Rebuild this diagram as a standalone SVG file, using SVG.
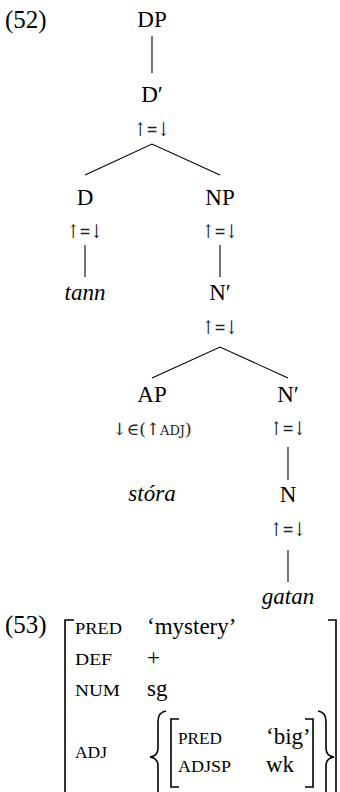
<svg xmlns="http://www.w3.org/2000/svg" width="340" height="792" viewBox="0 0 340 792" font-family="'Liberation Serif', 'DejaVu Serif', serif">
<style>
text{font-family:'Liberation Serif','DejaVu Serif',serif;fill:#000}
.lab{font-size:23px;text-anchor:middle}
.ann{font-size:19px;text-anchor:middle;font-family:'DejaVu Serif','Liberation Serif',serif;fill:#222}
.ann2{font-size:17px;text-anchor:middle;font-family:'DejaVu Serif','Liberation Serif',serif;fill:#222}
.it{font-size:23px;font-style:italic;text-anchor:middle}
.num{font-size:25px}
.att{font-size:16px}
.val{font-size:23px}
.ln{stroke:#000;stroke-width:1.1;fill:none}
.br{stroke:#000;stroke-width:1.6;fill:none}
</style>
<rect width="340" height="792" fill="#fff"/>
<text class="num" x="5" y="28">(52)</text>
<g id="connectors">
<line class="ln" x1="152" y1="36" x2="152" y2="73"/>
<polyline class="ln" points="85,175 152,144 220,175"/>
<line class="ln" x1="85" y1="245" x2="85" y2="277"/>
<line class="ln" x1="220" y1="245" x2="220" y2="277"/>
<polyline class="ln" points="152,378 220,347 288,378"/>
<line class="ln" x1="288" y1="447" x2="288" y2="480"/>
<line class="ln" x1="288" y1="550" x2="288" y2="582"/>
</g>
<g id="n-DP"><text class="lab" x="152" y="27">DP</text></g>
<g id="n-Dbar"><text class="lab" x="152" y="102">D′</text><text class="ann" x="152" y="136" textLength="35" lengthAdjust="spacingAndGlyphs">↑=↓</text></g>
<g id="n-D"><text class="lab" x="85" y="205">D</text><text class="ann" x="85" y="238" textLength="35" lengthAdjust="spacingAndGlyphs">↑=↓</text></g>
<g id="n-tann"><text class="it" x="85" y="300">tann</text></g>
<g id="n-NP"><text class="lab" x="220" y="205">NP</text><text class="ann" x="220" y="238" textLength="35" lengthAdjust="spacingAndGlyphs">↑=↓</text></g>
<g id="n-Nbar1"><text class="lab" x="220" y="300">N′</text><text class="ann" x="220" y="334" textLength="35" lengthAdjust="spacingAndGlyphs">↑=↓</text></g>
<g id="n-AP"><text class="lab" x="152" y="402">AP</text><text class="ann2" x="152" y="435">↓∈(↑<tspan font-size="13">ADJ</tspan>)</text></g>
<g id="n-stora"><text class="it" x="152" y="501">stóra</text></g>
<g id="n-Nbar2"><text class="lab" x="288" y="402">N′</text><text class="ann" x="288" y="435" textLength="35" lengthAdjust="spacingAndGlyphs">↑=↓</text></g>
<g id="n-N"><text class="lab" x="288" y="502">N</text><text class="ann" x="288" y="536" textLength="35" lengthAdjust="spacingAndGlyphs">↑=↓</text></g>
<g id="n-gatan"><text class="it" x="288" y="604">gatan</text></g>
<g id="avm">
<text class="num" x="5" y="633">(53)</text>
<path class="br" d="M74,620 H65 V800"/>
<path class="br" d="M328,620 H336 V800"/>
<text class="att" x="75" y="634" textLength="47" lengthAdjust="spacingAndGlyphs">PRED</text>
<text class="val" x="147" y="634">‘mystery’</text>
<text class="att" x="75" y="665" textLength="37" lengthAdjust="spacingAndGlyphs">DEF</text>
<text class="val" x="147" y="665">+</text>
<text class="att" x="75" y="696" textLength="45" lengthAdjust="spacingAndGlyphs">NUM</text>
<text class="val" x="147" y="696">sg</text>
<text class="att" x="75" y="758" textLength="32" lengthAdjust="spacingAndGlyphs">ADJ</text>
<path class="br" d="M166,711 Q158,712 158,722 V748 Q158,756 150,757 Q158,758 158,766 V795 Q158,804 166,805"/>
<path class="br" d="M179,719 H171 V787 H179"/>
<text class="att" x="178" y="744" textLength="44" lengthAdjust="spacingAndGlyphs">PRED</text>
<text class="val" x="266" y="744">‘big’</text>
<text class="att" x="178" y="772" textLength="53" lengthAdjust="spacingAndGlyphs">ADJSP</text>
<text class="val" x="266" y="772">wk</text>
<path class="br" d="M305,719 H313 V787 H305"/>
<path class="br" d="M318,711 Q326,712 326,722 V748 Q326,756 334,757 Q326,758 326,766 V795 Q326,804 318,805"/>
</g>
</svg>
